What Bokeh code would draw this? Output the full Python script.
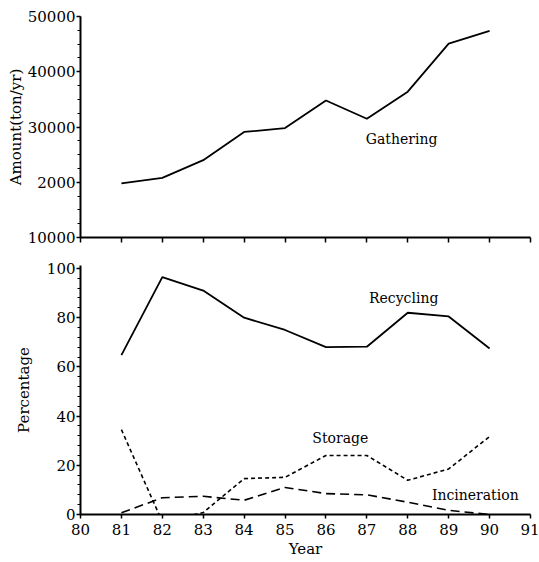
from bokeh.plotting import figure
from bokeh.layouts import column
from bokeh.models import Range1d, Label, FixedTicker
from bokeh.embed import file_html
from bokeh.resources import INLINE

years = [81, 82, 83, 84, 85, 86, 87, 88, 89, 90]
gathering = [19800, 20800, 24000, 29100, 29800, 34800, 31500, 36400, 45100, 47400]
recycling = [64.8, 96.5, 91.0, 80.0, 75.0, 68.0, 68.2, 82.0, 80.5, 67.5]
storage = [34.5, -3.0, 0.8, 14.6, 15.1, 24.0, 24.0, 13.9, 18.5, 31.7]
incineration = [0.7, 6.8, 7.4, 5.8, 11.0, 8.5, 8.0, 5.0, 1.7, 0.0]
x_ticks = [80, 81, 82, 83, 84, 85, 86, 87, 88, 89, 90, 91]
top_ticks = [10000, 20000, 30000, 40000, 50000]
top_labels = {20000: "2000"}
pct_ticks = [0, 20, 40, 60, 80, 100]

FONT = "DejaVu Serif"

def style_axes(p):
    for ax in p.xaxis + p.yaxis:
        ax.axis_line_width = 2
        ax.axis_line_color = "black"
        ax.major_tick_line_color = "black"
        ax.minor_tick_line_color = "black"
        ax.major_tick_line_width = 1.5
        ax.minor_tick_line_width = 1.2
        ax.major_label_text_font = FONT
        ax.major_label_text_font_size = "15px"
        ax.major_label_text_color = "black"
        ax.axis_label_text_font = FONT
        ax.axis_label_text_font_size = "15px"
        ax.axis_label_text_font_style = "normal"
        ax.axis_label_text_color = "black"
    p.xgrid.visible = False
    p.ygrid.visible = False
    p.outline_line_color = None

# ---- top panel ----
p1 = figure(width=539, height=251, output_backend="svg", toolbar_location=None,
            x_range=Range1d(80, 91), y_range=Range1d(10000, 50000),
            min_border_left=80, min_border_right=9, min_border_top=16, min_border_bottom=14)
style_axes(p1)
p1.xaxis.ticker = FixedTicker(ticks=x_ticks)
p1.xaxis.major_label_overrides = {t: "" for t in x_ticks}
p1.xaxis.major_label_standoff = 0
p1.xaxis.major_tick_in = 0
p1.xaxis.major_tick_out = 5
p1.xaxis.minor_tick_out = 0
p1.xaxis.minor_tick_in = 0
p1.yaxis.ticker = FixedTicker(ticks=top_ticks, minor_ticks=list(range(10000, 50001, 2500)))
p1.yaxis.major_label_overrides = top_labels
p1.yaxis.major_tick_in = 0
p1.yaxis.major_tick_out = 4
p1.yaxis.minor_tick_in = 0
p1.yaxis.minor_tick_out = 3
p1.yaxis.major_label_standoff = 1
p1.yaxis.axis_label = "Amount(ton/yr)"
p1.yaxis.axis_label_standoff = 0
p1.line(years, gathering, line_color="black", line_width=1.8)

lab = dict(text_font=FONT, text_font_size="14px", text_align="center",
           text_baseline="middle", text_color="black")
p1.add_layout(Label(x=87.85, y=27900, text="Gathering", **lab))

# ---- bottom panel ----
p2 = figure(width=539, height=309, output_backend="svg", toolbar_location=None,
            x_range=Range1d(80, 91), y_range=Range1d(0, 101.2),
            min_border_left=80, min_border_right=9, min_border_top=14, min_border_bottom=45)
style_axes(p2)
p2.xaxis.ticker = FixedTicker(ticks=x_ticks)
p2.xaxis.major_tick_in = 0
p2.xaxis.major_tick_out = 4
p2.xaxis.minor_tick_out = 0
p2.xaxis.minor_tick_in = 0
p2.xaxis.major_label_standoff = 5
p2.xaxis.axis_label = "Year"
p2.xaxis.axis_label_standoff = 2
p2.yaxis.ticker = FixedTicker(ticks=pct_ticks, minor_ticks=list(range(0, 101, 4)))
p2.yaxis.major_tick_in = 0
p2.yaxis.major_tick_out = 4
p2.yaxis.minor_tick_in = 0
p2.yaxis.minor_tick_out = 3
p2.yaxis.major_label_standoff = 1
p2.yaxis.axis_label = "Percentage"
p2.yaxis.axis_label_standoff = 11

p2.line(years, recycling, line_color="black", line_width=1.8)
p2.line(years, storage, line_color="black", line_width=1.6, line_dash="4 3")
p2.line(years, incineration, line_color="black", line_width=1.6, line_dash="9 5")

p2.add_layout(Label(x=87.9, y=87.8, text="Recycling", **lab))
p2.add_layout(Label(x=86.35, y=31.2, text="Storage", **lab))
p2.add_layout(Label(x=89.65, y=8.0, text="Incineration", **lab))

layout = column(p1, p2, spacing=0)
open("out.html", "w").write(file_html(layout, INLINE))
